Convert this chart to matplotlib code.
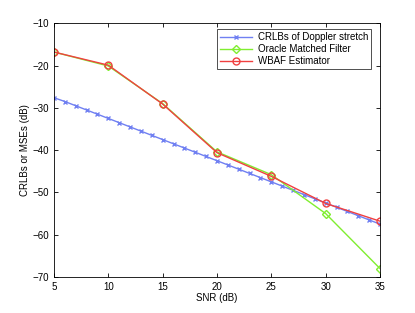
import matplotlib
matplotlib.use("Agg")
import matplotlib.pyplot as plt

plt.rcParams['font.family'] = ['Liberation Sans', 'DejaVu Sans']

snr_crlb = list(range(5, 36))
crlb = [-27.6, -28.5, -29.5, -30.5, -31.5, -32.5, -33.5, -34.5, -35.5, -36.5,
        -37.5, -38.5, -39.5, -40.5, -41.5, -42.5, -43.5, -44.5, -45.5, -46.5,
        -47.5, -48.5, -49.5, -50.5, -51.5, -52.5, -53.5, -54.5, -55.5, -56.5, -57.5]
snr = [5, 10, 15, 20, 25, 30, 35]
oracle = [-16.8, -20.1, -29.0, -40.4, -45.8, -55.0, -68.0]
wbaf = [-16.8, -19.9, -29.1, -40.6, -46.2, -52.6, -56.8]

fig = plt.figure(figsize=(4.15, 3.13), dpi=100)
ax = fig.add_axes([54/415, 1-277/313, (380-54)/415, (277-23.3)/313])

ax.plot(snr_crlb, crlb, color='#7080f2', marker='x', markersize=3.5, lw=1.0,
        label='CRLBs of Doppler stretch')
ax.plot(snr, oracle, color='#80ee30', marker='D', markersize=4, lw=1.0,
        markerfacecolor='none', label='Oracle Matched Filter')
ax.plot(snr, wbaf, color='#f04040', marker='o', markersize=5, lw=1.0,
        markerfacecolor='none', label='WBAF Estimator')

ax.set_xlim(5, 35)
ax.set_ylim(-70, -10)
ax.set_xticks([5, 10, 15, 20, 25, 30, 35])
ax.set_yticks([-70, -60, -50, -40, -30, -20, -10])
ax.set_yticklabels(['\u221270', '\u221260', '\u221250', '\u221240', '\u221230', '\u221220', '\u221210'])
ax.tick_params(direction='in', top=True, right=True, labelsize=7, length=3, width=0.6)
for s in ax.spines.values():
    s.set_linewidth(0.6)
ax.set_xlabel('SNR (dB)', fontsize=7, labelpad=1)
ax.set_ylabel('CRLBs or MSEs (dB)', fontsize=7, labelpad=2)

leg = ax.legend(loc='upper right', fontsize=7, frameon=True, fancybox=False,
                edgecolor='black', borderpad=0.3, labelspacing=0.2,
                handlelength=3.3, handletextpad=0.6, borderaxespad=0,
                bbox_to_anchor=(1 - 9/326, 1 - 6/253.7))
leg.get_frame().set_linewidth(0.6)

fig.savefig('out.png', dpi=100)
